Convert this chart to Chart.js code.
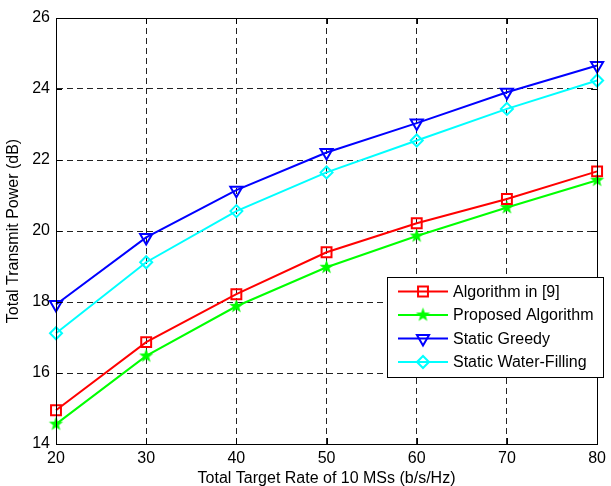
<!DOCTYPE html>
<html>
<head>
<meta charset="utf-8">
<script src="https://cdn.jsdelivr.net/npm/chart.js@4/dist/chart.umd.min.js"></script>
<style>
html,body{margin:0;padding:0;background:#fff;}
#wrap{position:relative;width:611px;height:486px;}
</style>
</head>
<body>
<div id="wrap"><canvas id="c" width="611" height="486"></canvas></div>
<script>
// ---- data ----
const rates = [20, 30, 40, 50, 60, 70, 80];
const algorithm9 = [14.95, 16.87, 18.22, 19.40, 20.22, 20.90, 21.68];
const proposed = [14.56, 16.48, 17.88, 18.98, 19.86, 20.66, 21.43];
const staticGreedy = [17.93, 19.82, 21.15, 22.21, 23.04, 23.91, 24.66];
const staticWaterFilling = [17.12, 19.12, 20.56, 21.65, 22.55, 23.44, 24.24];
const seriesNames = ['Algorithm in [9]', 'Proposed Algorithm', 'Static Greedy', 'Static Water-Filling'];
const xTicks = [20, 30, 40, 50, 60, 70, 80];
const yTicks = [14, 16, 18, 20, 22, 24, 26];

const FONT = "'Liberation Sans', Arial, sans-serif";

// filled pentagram marker
function makeStar(color, R) {
  const s = Math.ceil(R * 2 + 2);
  const cv = document.createElement('canvas');
  cv.width = s; cv.height = s;
  const g = cv.getContext('2d');
  const cx = s / 2, cy = s / 2, r = R * 0.4;
  g.beginPath();
  for (let i = 0; i < 10; i++) {
    const ang = -Math.PI / 2 + i * Math.PI / 5;
    const rr = i % 2 === 0 ? R : r;
    const px = cx + rr * Math.cos(ang), py = cy + rr * Math.sin(ang);
    if (i === 0) g.moveTo(px, py); else g.lineTo(px, py);
  }
  g.closePath();
  g.fillStyle = color;
  g.fill();
  return cv;
}
const starImg = makeStar('#00ff00', 7.5);

function pts(arr) { return rates.map((x, i) => ({x: x, y: arr[i]})); }

const datasets = [
  {label: seriesNames[0], data: pts(algorithm9), borderColor: '#ff0000', pointStyle: 'rect', pointRadius: 7, pointRotation: 0},
  {label: seriesNames[1], data: pts(proposed), borderColor: '#00ff00', pointStyle: starImg, pointRadius: 7, pointRotation: 0},
  {label: seriesNames[2], data: pts(staticGreedy), borderColor: '#0000ff', pointStyle: 'triangle', pointRadius: 7, pointRotation: 180},
  {label: seriesNames[3], data: pts(staticWaterFilling), borderColor: '#00ffff', pointStyle: 'rectRot', pointRadius: 6, pointRotation: 0}
].map(d => Object.assign({
  borderWidth: 2,
  pointBorderColor: d.borderColor,
  pointBackgroundColor: 'rgba(0,0,0,0)',
  pointBorderWidth: 2,
  tension: 0,
  fill: false,
  clip: false
}, d));

const boxPlugin = {
  id: 'boxPlugin',
  afterDraw(chart) {
    const ctx = chart.ctx;
    const a = chart.chartArea;
    const xs = chart.scales.x, ys = chart.scales.y;
    ctx.save();
    ctx.strokeStyle = '#000';
    ctx.lineWidth = 1;
    ctx.setLineDash([]);
    // box
    ctx.strokeRect(Math.round(a.left) + 0.5, Math.round(a.top) + 0.5, Math.round(a.right - a.left), Math.round(a.bottom - a.top));
    // inner tick marks
    ctx.beginPath();
    xTicks.forEach(v => {
      const px = Math.round(xs.getPixelForValue(v)) + 0.5;
      ctx.moveTo(px, a.bottom); ctx.lineTo(px, a.bottom - 6);
      ctx.moveTo(px, a.top); ctx.lineTo(px, a.top + 6);
    });
    yTicks.forEach(v => {
      const py = Math.round(ys.getPixelForValue(v)) + 0.5;
      ctx.moveTo(a.left, py); ctx.lineTo(a.left + 6, py);
      ctx.moveTo(a.right, py); ctx.lineTo(a.right - 6, py);
    });
    ctx.stroke();

    // legend
    const L = 387, T = 277, W = 216, H = 100;
    ctx.fillStyle = '#fff';
    ctx.fillRect(L, T, W, H);
    ctx.strokeRect(L + 0.5, T + 0.5, W, H);
    const rowY = [291.5, 315, 338.5, 362];
    chart.data.datasets.forEach((d, i) => {
      const y = rowY[i];
      ctx.setLineDash([]);
      ctx.strokeStyle = d.borderColor;
      ctx.lineWidth = 2;
      ctx.beginPath();
      ctx.moveTo(398, y); ctx.lineTo(448, y);
      ctx.stroke();
      ctx.fillStyle = 'rgba(0,0,0,0)';
      ctx.strokeStyle = d.borderColor;
      ctx.lineWidth = 2;
      Chart.helpers.drawPoint(ctx, {
        pointStyle: d.pointStyle,
        rotation: d.pointRotation,
        radius: d.pointRadius,
        borderWidth: 2
      }, 423, y);
      ctx.font = '16px ' + FONT;
      ctx.textBaseline = 'middle';
      ctx.textAlign = 'left';
      ctx.fillStyle = '#000';
      ctx.fillText(d.label, 453, y + 1);
    });
    ctx.restore();
  }
};

new Chart(document.getElementById('c'), {
  type: 'line',
  data: {datasets: datasets},
  plugins: [boxPlugin],
  options: {
    responsive: false,
    animation: false,
    events: [],
    layout: {padding: {top: 18, right: 7, left: 0, bottom: 0}, autoPadding: false},
    plugins: {legend: {display: false}, tooltip: {enabled: false}},
    scales: {
      x: {
        type: 'linear', min: 20, max: 80,
        afterBuildTicks(s) { s.ticks = xTicks.map(v => ({value: v})); },
        afterFit(s) { s.height = 42; },
        grid: {color: '#222', lineWidth: 1, drawTicks: false},
        border: {display: true, color: '#000', width: 1, dash: [6, 4]},
        ticks: {color: '#000', padding: 5, font: {family: FONT, size: 16}, maxRotation: 0},
        title: {display: true, text: 'Total Target Rate of 10 MSs (b/s/Hz)', color: '#000', font: {family: FONT, size: 16, lineHeight: 1}, padding: {top: 0, bottom: -1}}
      },
      y: {
        type: 'linear', min: 14, max: 26,
        afterBuildTicks(s) { s.ticks = yTicks.map(v => ({value: v})); },
        afterFit(s) { s.width = 56; },
        grid: {color: '#222', lineWidth: 1, drawTicks: false},
        border: {display: true, color: '#000', width: 1, dash: [6, 4]},
        ticks: {color: '#000', padding: 6, font: {family: FONT, size: 16}},
        title: {display: true, text: 'Total Transmit Power (dB)', color: '#000', font: {family: FONT, size: 16, lineHeight: 1}, padding: {top: 6, bottom: 0}}
      }
    }
  }
});
</script>
</body>
</html>
